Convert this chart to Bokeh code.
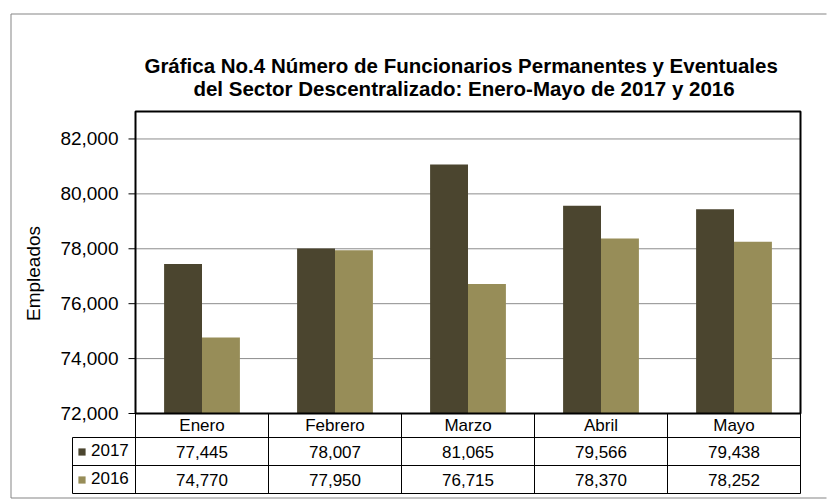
import numpy as np
from bokeh.plotting import figure
from bokeh.models import Range1d, ColumnDataSource, Legend, LegendItem
from bokeh.core.properties import value
from bokeh.embed import file_html
from bokeh.resources import INLINE

# ---------------- data ----------------
months = ["Enero", "Febrero", "Marzo", "Abril", "Mayo"]
series_names = ["2017", "2016"]
values_2017 = [77445, 78007, 81065, 79566, 79438]
values_2016 = [74770, 77950, 76715, 78370, 78252]
y_ticks = [72000, 74000, 76000, 78000, 80000, 82000]
y_top = 83000
title_line1 = "Gráfica No.4  Número de Funcionarios Permanentes y Eventuales"
title_line2 = "del Sector Descentralizado: Enero-Mayo de 2017 y 2016"
y_label = "Empleados"

colors = ["#4b452f", "#978d58"]
FONT = "Liberation Sans"

# ---------------- layout (px on the canvas) ----------------
W, H = 833, 501
PL, PR, PT, PB = 135, 800, 111, 413        # chart (plot area) box
NCAT = len(months)
Y0 = y_ticks[0]

def xd(px):
    return (px - PL) * NCAT / (PR - PL)

def yd(py):
    return Y0 + (PB - py) * (y_top - Y0) / (PB - PT)

p = figure(width=W, height=H, output_backend="svg", toolbar_location=None,
           x_range=Range1d(xd(0), xd(W)), y_range=Range1d(yd(H), yd(0)),
           x_axis_location=None, y_axis_location=None, title=None,
           min_border=0)
p.outline_line_color = None
p.grid.visible = False
p.background_fill_color = "white"
p.border_fill_color = "white"

txt = dict(text_font=value(FONT), text_color="black")
idx = np.arange(NCAT)
xc = idx + 0.5

# outer border of the chart area (its right side lies beyond the picture)
p.segment(x0=[xd(10.5), xd(10.5), xd(10.5)], y0=[yd(13.5), yd(13.5), yd(497.5)],
          x1=[xd(826), xd(10.5), xd(826)], y1=[yd(13.5), yd(497.5), yd(497.5)],
          line_color="#858585", line_width=1)

# gridlines
grid_y = y_ticks[1:]
p.segment(x0=[0] * len(grid_y), y0=grid_y, x1=[NCAT] * len(grid_y), y1=grid_y,
          line_color="black", line_alpha=0.9, line_dash="1 1", line_width=1)

# ---------------- bars ----------------
bw = 0.285
src = ColumnDataSource(dict(
    x17=xc - bw / 2, x16=xc + bw / 2, v17=values_2017, v16=values_2016))
r17 = p.vbar(x="x17", top="v17", bottom=Y0, width=bw, source=src,
             fill_color=colors[0], line_color=None)
r16 = p.vbar(x="x16", top="v16", bottom=Y0, width=bw, source=src,
             fill_color=colors[1], line_color=None)

# ---------------- data table under the chart ----------------
rows_px = [PB, 437, 465, 493]
legend_left_px = 72
hy = [yd(r) for r in rows_px[1:]]
p.segment(x0=[xd(legend_left_px)] * 3, y0=hy, x1=[NCAT] * 3, y1=hy,
          line_color="black", line_width=1)
vx = list(range(NCAT + 1))
p.segment(x0=vx, y0=[Y0] * len(vx), x1=vx, y1=[yd(rows_px[-1])] * len(vx),
          line_color="black", line_width=1)
p.segment(x0=[xd(legend_left_px)], y0=[yd(rows_px[1])], x1=[xd(legend_left_px)],
          y1=[yd(rows_px[-1])], line_color="black", line_width=1)

# plot-area frame (thick)
p.quad(left=[0], right=[NCAT], bottom=[Y0], top=[y_top], fill_color=None,
       line_color="black", line_width=2)

# ---------------- y axis ----------------
p.segment(x0=[xd(PL - 7)] * len(y_ticks), y0=y_ticks, x1=[0] * len(y_ticks), y1=y_ticks,
          line_color="black", line_width=1)
p.text(x=[0] * len(y_ticks), y=y_ticks, text=[f"{t:,}" for t in y_ticks],
       x_offset=-17, text_align="right", text_baseline="middle",
       text_font_size=value("19px"), **txt)
p.text(x=[xd(33)], y=[yd(273)], text=[y_label], angle=np.pi / 2,
       text_align="center", text_baseline="middle", text_font_size=value("19px"), **txt)

# ---------------- titles ----------------
p.text(x=[xd(463.5)] * 2, y=[yd(65), yd(88)], text=[title_line1, title_line2],
       text_align="center", text_baseline="alphabetic", text_font_size=value("20.5px"),
       text_font_style="bold", **txt)

# ---------------- table texts ----------------
def row_mid(r):
    return (rows_px[r] + rows_px[r + 1]) / 2 - PB

p.text(x=xc, y=[Y0] * NCAT, text=months, y_offset=row_mid(0),
       text_align="center", text_baseline="middle", text_font_size=value("17px"), **txt)
for vals, r in ((values_2017, 1), (values_2016, 2)):
    p.text(x=xc, y=[Y0] * NCAT, text=[f"{v:,}" for v in vals], y_offset=row_mid(r),
           text_align="center", text_baseline="middle", text_font_size=value("17px"), **txt)

legend = Legend(items=[LegendItem(label=series_names[0], renderers=[r17]),
                       LegendItem(label=series_names[1], renderers=[r16])],
                location=(77, H - 489), orientation="vertical",
                glyph_width=9, glyph_height=9, label_standoff=5, label_height=20,
                spacing=8, padding=0, margin=0, border_line_color=None,
                background_fill_alpha=0, label_text_font=FONT,
                label_text_font_size="17px", label_text_color="black")
p.add_layout(legend)

open("out.html", "w").write(file_html(p, INLINE))
